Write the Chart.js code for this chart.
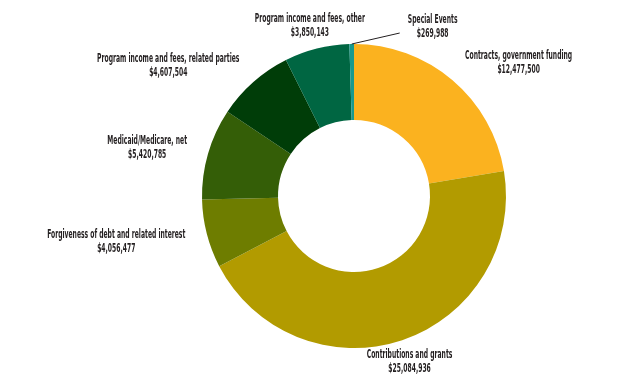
<!DOCTYPE html>
<html>
<head>
<meta charset="utf-8">
<script src="https://cdn.jsdelivr.net/npm/chart.js@4.4.0/dist/chart.umd.min.js"></script>
<style>
  html, body { margin: 0; padding: 0; background: #fff; }
  #wrap { width: 621px; height: 389px; position: relative; }
</style>
</head>
<body>
<div id="wrap"><canvas id="revenueChart"></canvas></div>
<script>
const categories = [
  'Contracts, government funding',
  'Contributions and grants',
  'Forgiveness of debt and related interest',
  'Medicaid/Medicare, net',
  'Program income and fees, related parties',
  'Program income and fees, other',
  'Special Events'
];
const amounts = [12477500, 25084936, 4056477, 5420785, 4607504, 3850143, 269988];
const sliceColors = ['#FBB21F', '#B29B00', '#6E7D00', '#345E07', '#003D08', '#006642', '#17998E'];

// label layout nudges (px), plus callout for tiny slice
const labelNudge = [[24, 3.5], [-10, -3.5], [-12, 1.5], [-11, 1.7], [-30, 3.8], [9.5, 3.7], [0, 0]];
const calloutIdx = 6;

const FONT = 'bold 12px "Liberation Sans Narrow", "DejaVu Sans Condensed", sans-serif';
const SQUEEZE = 0.56;

const fmt = v => '$' + v.toLocaleString('en-US');

const outsideLabels = {
  id: 'outsideLabels',
  afterDatasetsDraw(chart) {
    const ctx = chart.ctx;
    const arcs = chart.getDatasetMeta(0).data;
    ctx.save();
    ctx.font = FONT;
    ctx.fillStyle = '#231f20';
    ctx.textAlign = 'center';
    ctx.textBaseline = 'middle';
    arcs.forEach((arc, i) => {
      const p = arc.getProps(['x', 'y', 'startAngle', 'endAngle', 'outerRadius'], true);
      const mid = (p.startAngle + p.endAngle) / 2;
      const c = Math.cos(mid), s = Math.sin(mid);
      const lines = [categories[i], fmt(amounts[i])];
      const w = Math.max(...lines.map(t => ctx.measureText(t).width)) * SQUEEZE;
      const h = 30;
      let cx, cy;
      if (i === calloutIdx) {
        const x0 = p.x + c * p.outerRadius, y0 = p.y + s * p.outerRadius;
        const x1 = x0 + 48, y1 = y0 - 11;
        ctx.strokeStyle = '#231f20';
        ctx.lineWidth = 1;
        ctx.beginPath();
        ctx.moveTo(x0, y0);
        ctx.lineTo(x1, y1);
        ctx.stroke();
        cx = x1 + 33;
        cy = y1 - 6.5;
      } else {
        const ax = p.x + c * (p.outerRadius + 12);
        const ay = p.y + s * (p.outerRadius + 12);
        cx = ax + c * w / 2 + labelNudge[i][0];
        cy = ay + s * h / 2 + labelNudge[i][1];
      }
      lines.forEach((t, k) => {
        ctx.save();
        ctx.translate(cx, cy - 7 + k * 14);
        ctx.scale(SQUEEZE, 1);
        ctx.fillText(t, 0, 0);
        ctx.restore();
      });
    });
    ctx.restore();
  }
};

new Chart(document.getElementById('revenueChart'), {
  type: 'doughnut',
  data: {
    labels: categories,
    datasets: [{
      data: amounts,
      backgroundColor: sliceColors,
      borderWidth: 0
    }]
  },
  options: {
    responsive: true,
    maintainAspectRatio: false,
    animation: false,
    cutout: '50%',
    layout: { padding: { left: 202, right: 115, top: 44, bottom: 41 } },
    plugins: {
      legend: { display: false },
      tooltip: { enabled: false }
    }
  },
  plugins: [outsideLabels]
});
</script>
</body>
</html>
